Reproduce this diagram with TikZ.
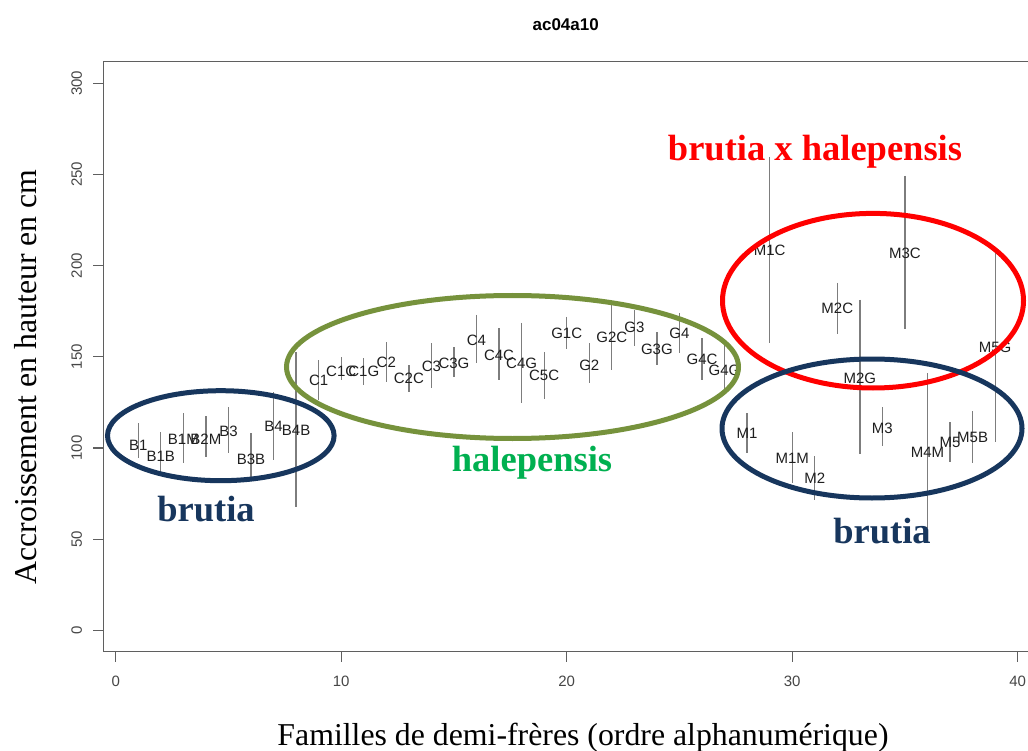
\documentclass[tikz,border=0pt]{standalone}
\usepackage{fontspec}
\setmainfont{Liberation Serif}
\setsansfont{Liberation Sans}
\definecolor{boxgray}{RGB}{95,95,95}
\definecolor{bargray}{RGB}{125,125,125}
\definecolor{tickgray}{RGB}{70,70,70}
\definecolor{navy}{RGB}{23,54,93}
\definecolor{olive}{RGB}{118,146,60}
\definecolor{txtgreen}{RGB}{0,176,80}
\definecolor{txtred}{RGB}{255,0,0}
\tikzset{
  frame/.style={draw=boxgray,line width=1.2pt},
  tickline/.style={draw=boxgray,line width=1.1pt},
  bar/.style={draw=bargray,line width=1.3pt},
  lab/.style={inner sep=0pt,font=\sffamily\fontsize{15}{15}\selectfont,text=black!88},
  ticklab/.style={inner sep=0pt,font=\sffamily\fontsize{15}{15}\selectfont,text=tickgray},
  ring/.style={line width=5pt},
  bigtxt/.style={inner sep=0pt,anchor=base,font=\bfseries\fontsize{36.5}{36.5}\selectfont},
  axtitle/.style={inner sep=0pt,anchor=base,font=\fontsize{31.8}{31.8}\selectfont}
}
\begin{document}
\begin{tikzpicture}[x=1pt,y=-1pt]
\useasboundingbox[fill=white] (0,0) rectangle (1028,751);
\clip (0,0) rectangle (1028,751);
% title
\node[inner sep=0pt,font=\sffamily\bfseries\fontsize{17}{17}\selectfont] (title) at (565.7,25) {ac04a10};
% plot frame
\draw[frame] (1040,61.7) -- (103.3,61.7) -- (103.3,651.7) -- (1040,651.7);
% y ticks
\foreach \v in {0,50,...,300}{
  \pgfmathsetmacro\yy{630.3-1.8233*\v}
  \coordinate (yt\v) at (103.3,\yy);
  \coordinate (ys\v) at (93.3,\yy);
  \draw[tickline] (yt\v) -- (ys\v);
  \node[ticklab,rotate=90] (yl\v) at (76.7,\yy) {\v};
}
% x ticks
\foreach \v in {0,10,...,40}{
  \pgfmathsetmacro\xx{115.7+22.55*\v}
  \coordinate (xt\v) at (\xx,651.7);
  \coordinate (xs\v) at (\xx,661.7);
  \draw[tickline] (xt\v) -- (xs\v);
  \node[ticklab] (xl\v) at (\xx,681) {\v};
}
% axis titles
\node[axtitle,rotate=90] (ytitle) at (36,377) {Accroissement en hauteur en cm};
\node[axtitle] (xtitle) at (583,745) {Familles de demi-frères (ordre alphanumérique)};
% families: index/label/label y/top/bottom
\foreach \i/\l/\ly/\t/\b in {
 1/B1/445/423/458, 2/B1B/456/432/473, 3/B1M/439/413/463, 4/B2M/439/416/457,
 5/B3/431/407/453, 6/B3B/459/433/478, 7/B4/426/392/460, 8/B4B/430/352/507,
 9/C1/380/360/400, 10/C1C/371/357/380, 11/C1G/371/358/385, 12/C2/362/342/382,
 13/C2C/378/365/392, 14/C3/366/343/388, 15/C3G/363/347/377, 16/C4/340/315/363,
 17/C4C/355/328/380, 18/C4G/363/323/403, 19/C5C/375/352/399, 20/G1C/333/317/349,
 21/G2/365/343/383, 22/G2C/337/305/370, 23/G3/327/310/346, 24/G3G/349/332/365,
 25/G4/333/313/353, 26/G4C/359/338/380, 27/G4G/370/345/390, 28/M1/433/413/453,
 29/M1C/250/157/343, 30/M1M/458/432/483, 31/M2/478/456/500, 32/M2C/308/283/334,
 33/M2G/378/300/454, 34/M3/428/407/446, 35/M3C/253/176/329, 36/M4M/452/373/528,
 37/M5/442/422/462, 38/M5B/437/411/463, 39/M5G/347/253/442}{
  \pgfmathsetmacro\xx{115.7+22.55*\i}
  \coordinate (t\i) at (\xx,\t);
  \coordinate (b\i) at (\xx,\b);
  \draw[bar] (t\i) -- (b\i);
  \node[lab] (f\i) at (\xx,\ly) {\l};
}
% group ellipses
\draw[ring,navy] (220.8,435.7) ellipse [x radius=113.3pt, y radius=45pt];
\draw[ring,olive] (512.5,367) ellipse [x radius=226pt, y radius=71.5pt];
\draw[ring,txtred] (873,300.7) ellipse [x radius=150.5pt, y radius=87.3pt];
\draw[ring,navy] (872,428.5) ellipse [x radius=150pt, y radius=69.5pt];
% group labels
\node[bigtxt,text=navy] (g1) at (206,521) {brutia};
\node[bigtxt,text=txtgreen] (g2) at (532,471) {halepensis};
\node[bigtxt,text=txtred] (g3) at (815,161) {brutia x halepensis};
\node[bigtxt,text=navy] (g4) at (882,543) {brutia};
\end{tikzpicture}
\end{document}
